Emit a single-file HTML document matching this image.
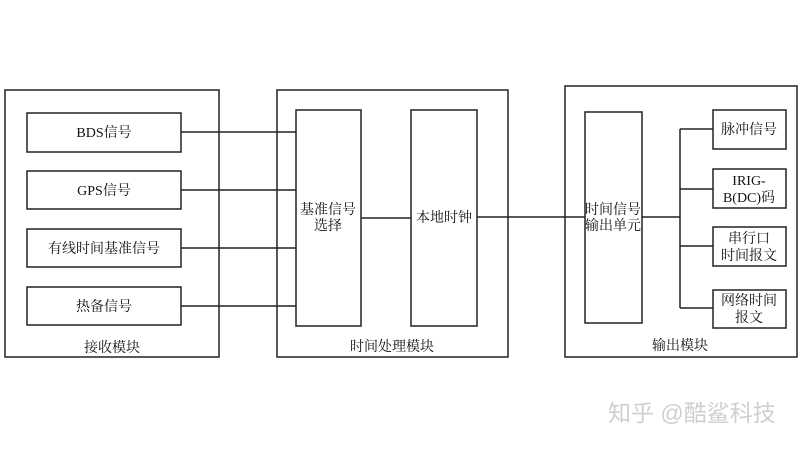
<!DOCTYPE html>
<html><head><meta charset="utf-8"><style>
html,body{margin:0;padding:0;background:#fff;width:800px;height:450px;overflow:hidden}
text{font-family:"Liberation Serif","Noto Serif CJK SC","Noto Sans CJK SC",serif;font-size:14px;font-weight:400;fill:#111}
</style></head><body>
<svg width="800" height="450" xmlns="http://www.w3.org/2000/svg">
<g fill="none" stroke="#222" stroke-width="1.5">
<rect x="5" y="90" width="214" height="267"/>
<rect x="277" y="90" width="231" height="267"/>
<rect x="565" y="86" width="232" height="271"/>
<rect x="27" y="113" width="154" height="39"/>
<rect x="27" y="171" width="154" height="38"/>
<rect x="27" y="229" width="154" height="38"/>
<rect x="27" y="287" width="154" height="38"/>
<rect x="296" y="110" width="65" height="216"/>
<rect x="411" y="110" width="66" height="216"/>
<rect x="585" y="112" width="57" height="211"/>
<rect x="713" y="110" width="73" height="39"/>
<rect x="713" y="169" width="73" height="39"/>
<rect x="713" y="227" width="73" height="39"/>
<rect x="713" y="290" width="73" height="38"/>
<path d="M181 132H296M181 190H296M181 248H296M181 306H296M361 218H411M477 217H585M642 217H680M680 129V308M680 129H713M680 189H713M680 246H713M680 308H713"/>
</g>
<g text-anchor="middle">
<text x="104" y="137">BDS信号</text>
<text x="104" y="195">GPS信号</text>
<text x="104" y="253">有线时间基准信号</text>
<text x="104" y="311">热备信号</text>
<text x="112" y="352">接收模块</text>
<text x="328" y="214">基准信号</text>
<text x="328" y="230">选择</text>
<text x="444" y="222">本地时钟</text>
<text x="392" y="351">时间处理模块</text>
<text x="613" y="214">时间信号</text>
<text x="613" y="230">输出单元</text>
<text x="680" y="350">输出模块</text>
<text x="749" y="134">脉冲信号</text>
<text x="749" y="185">IRIG-</text>
<text x="749" y="202">B(DC)码</text>
<text x="749" y="243">串行口</text>
<text x="749" y="260">时间报文</text>
<text x="749" y="305">网络时间</text>
<text x="749" y="322">报文</text>
</g>
<text x="608" y="421" style="font-family:'Liberation Sans','Noto Sans CJK SC',sans-serif;font-size:23px;font-weight:400;fill:#cfcfcf">知乎 @酷鲨科技</text>
</svg>
</body></html>
